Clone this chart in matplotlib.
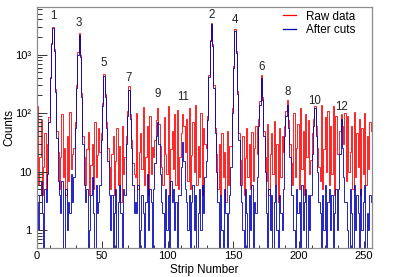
"""Strip occupancy before and after cuts, log scale."""

import matplotlib

matplotlib.use("Agg")
import matplotlib.pyplot as plt
import numpy as np
from matplotlib.lines import Line2D
from matplotlib.ticker import FixedLocator, FixedFormatter, LogLocator, MultipleLocator, NullFormatter

COLOR_RAW = "#ff0000"
COLOR_CUTS = "#0000bb"
COLOR_FRAME = "#8c8c8c"
COLOR_TEXT = "#222222"

# counts per strip (0..255)
raw_counts = (
    [130, 6, 18, 75, 4, 12, 45, 5]
    + [30, 85, 420, 1600, 3000, 1250, 260, 50, 22]
    + [5, 18, 95, 8, 25, 4, 40, 7, 105, 11, 20]
    + [25, 70, 300, 1100, 2300, 1000, 220, 40, 18]
    + [6, 24, 48, 4, 13, 30, 5, 70, 8, 19, 55]
    + [22, 45, 150, 470, 210, 70, 25, 12]
    + [5, 20, 40, 4, 15, 55, 6, 28, 3, 60, 9]
    + [18, 40, 110, 290, 95, 35, 14, 9]
    + [8, 100, 5, 22, 45, 11, 125, 6, 18, 60, 4, 90, 9, 26]
    + [18, 35, 75, 120, 65, 28, 12]
    + [6, 85, 20, 9, 130, 4, 24, 50, 11, 95, 6, 115, 5]
    + [18, 45, 95, 60, 22, 80]
    + [7, 120, 5, 19, 70, 10, 135, 6, 27, 8, 100, 4, 55, 30]
    + [25, 90, 450, 1800, 3500, 1500, 300, 55, 20]
    + [5, 30, 4, 45, 8, 22, 3, 50, 6, 28]
    + [28, 120, 650, 2700, 1150, 240, 45, 16]
    + [6, 40, 4, 17, 55, 8, 30, 5, 48, 7, 25, 60]
    + [20, 80, 160, 440, 190, 50, 18]
    + [7, 65, 4, 20, 45, 9, 72, 6, 30, 3, 55, 8, 40]
    + [22, 60, 110, 170, 75, 30, 14]
    + [6, 100, 8, 25, 65, 5, 120, 11, 50, 4, 95, 18, 75, 9]
    + [16, 45, 80, 130, 60, 25, 12]
    + [7, 140, 5, 24, 85, 10, 110, 6, 60, 9, 130, 4, 90, 20]
    + [20, 50, 95, 60, 30, 100]
    + [7, 90, 10, 22, 60, 5, 105, 8, 45, 12, 80, 4, 55, 9, 100, 6, 40, 11, 70, 50]
)

cut_counts = (
    [3, 1, 4, 7, 2, 0, 5, 3]
    + [9, 70, 390, 1500, 2850, 1150, 230, 38, 7]
    + [4, 2, 7, 0, 0, 5, 1, 3, 2, 9, 3]
    + [8, 55, 270, 1000, 2150, 900, 190, 30, 6]
    + [3, 5, 0, 1, 4, 8, 2, 0, 6, 2, 3]
    + [6, 35, 130, 430, 190, 55, 15, 4]
    + [1, 4, 0, 2, 5, 0, 3, 6, 2, 0, 5]
    + [4, 30, 90, 250, 80, 25, 6, 2]
    + [3, 2, 6, 0, 1, 4, 2, 0, 3, 9, 1, 5, 3, 0]
    + [5, 14, 40, 70, 30, 9, 3]
    + [2, 0, 5, 1, 4, 0, 7, 3, 5, 1, 3, 0, 4]
    + [4, 12, 32, 15, 5, 3]
    + [1, 4, 0, 3, 6, 1, 4, 0, 2, 5, 1, 6, 2, 8]
    + [15, 75, 420, 1700, 3300, 1400, 270, 45, 10]
    + [3, 0, 4, 1, 0, 5, 2, 0, 2, 4]
    + [12, 100, 600, 2500, 1050, 210, 35, 6]
    + [3, 1, 0, 5, 2, 0, 4, 1, 6, 0, 3, 2]
    + [8, 60, 140, 400, 170, 40, 10]
    + [2, 0, 5, 1, 4, 0, 3, 6, 1, 0, 4, 2, 1]
    + [5, 40, 90, 140, 55, 18, 4]
    + [4, 1, 0, 5, 2, 3, 0, 6, 1, 3, 5, 0, 4, 1]
    + [4, 20, 60, 120, 40, 10, 3]
    + [2, 0, 4, 1, 6, 0, 3, 5, 1, 4, 0, 2, 5, 1]
    + [5, 20, 78, 25, 8, 3]
    + [3, 1, 0, 5, 2, 0, 6, 1, 4, 2, 0, 5, 1, 3, 6, 0, 2, 1, 4, 3]
)

peak_names = ["1", "3", "5", "7", "9", "11", "2", "4", "6", "8", "10", "12"]
peak_strips = [12, 32, 51, 70, 92, 111, 133, 151, 171, 191, 212, 232]
peak_label_heights = [4600, 3400, 730, 405, 216, 192, 4800, 3950, 620, 225, 158, 125]

x_ticks = [0, 50, 100, 150, 200, 250]
y_ticks = [1, 10, 100, 1000]
y_tick_labels = ["1", "10", "10²", "10³"]

plt.rcParams.update(
    {
        "font.family": ["Liberation Sans", "DejaVu Sans"],
        "font.size": 8.3,
    }
)

fig = plt.figure(figsize=(4.11, 2.77), dpi=100)
ax = fig.add_axes([0.089, 0.105, 0.816, 0.870])

edges = np.arange(len(raw_counts) + 1)
raw = np.asarray(raw_counts, dtype=float)
cuts = np.asarray(cut_counts, dtype=float)
# empty bins drop to the bottom of the frame on a log axis
ax.stairs(np.where(raw > 0, raw, 0.1), edges, color=COLOR_RAW, lw=0.6, baseline=None)
ax.stairs(np.where(cuts > 0, cuts, 0.1), edges, color=COLOR_CUTS, lw=0.6, baseline=None)

ax.set_yscale("log")
ax.set_xlim(0, 256)
ax.set_ylim(0.5, 6500)

for name, strip, height in zip(peak_names, peak_strips, peak_label_heights):
    ax.text(strip + 0.5, height, name, ha="center", va="center", color=COLOR_TEXT, fontsize=8.3)

ax.xaxis.set_major_locator(FixedLocator(x_ticks))
ax.xaxis.set_minor_locator(MultipleLocator(10))
ax.yaxis.set_major_locator(FixedLocator(y_ticks))
ax.yaxis.set_major_formatter(FixedFormatter(y_tick_labels))
ax.yaxis.set_minor_locator(LogLocator(base=10, subs=np.arange(2, 10)))
ax.yaxis.set_minor_formatter(NullFormatter())

ax.tick_params(axis="both", which="both", direction="in", color="#333333", width=0.7,
               top=False, right=False, labelsize=8.0)
ax.tick_params(axis="y", which="major", length=7.5, pad=4)
ax.tick_params(axis="y", which="minor", length=3.8)
ax.tick_params(axis="x", which="major", length=5, pad=2.5)
ax.tick_params(axis="x", which="minor", length=2.5)

for spine in ax.spines.values():
    spine.set_color(COLOR_FRAME)
    spine.set_linewidth(0.9)

ax.set_xlabel("Strip Number", fontsize=8.4, labelpad=2)
ax.set_ylabel("Counts", fontsize=8.4)
ax.yaxis.set_label_coords(-0.062, 0.5)

handles = [
    Line2D([0], [0], color=COLOR_RAW, lw=0.9, label="Raw data"),
    Line2D([0], [0], color=COLOR_CUTS, lw=0.9, label="After cuts"),
]
ax.legend(handles=handles, loc="upper left", bbox_to_anchor=(0.735, 0.985), frameon=False,
          fontsize=8.4, handlelength=1.1, handletextpad=0.85, labelspacing=0.15,
          borderpad=0, borderaxespad=0)

fig.savefig("out.png", dpi=100)
